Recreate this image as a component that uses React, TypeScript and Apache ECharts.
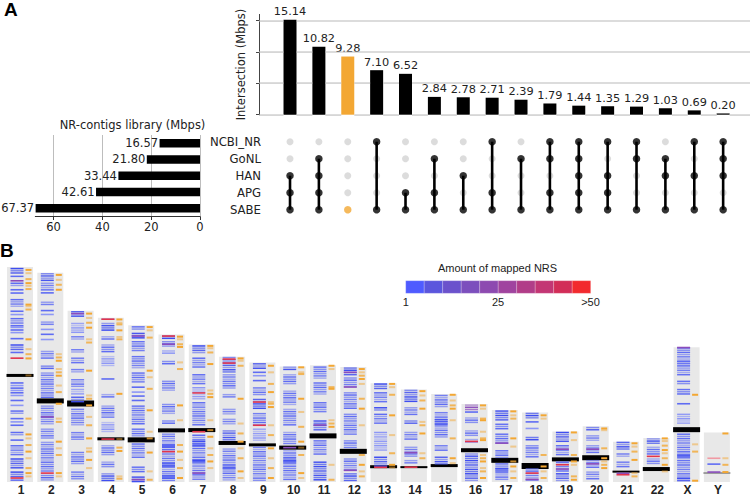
import React, { useEffect, useRef } from 'react';
import * as echarts from 'echarts';

// ---------- Panel A data ----------
const intersectionValues = [15.14, 10.82, 9.28, 7.1, 6.52, 2.84, 2.78, 2.71, 2.39, 1.79, 1.44, 1.35, 1.29, 1.03, 0.69, 0.2];
const setNames = ['NCBI_NR', 'GoNL', 'HAN', 'APG', 'SABE'];
const setSizes = [16.57, 21.8, 33.44, 42.61, 67.37];
const intersectionSets = [
  ['HAN', 'APG', 'SABE'],
  ['GoNL', 'HAN', 'APG', 'SABE'],
  ['SABE'],
  ['NCBI_NR', 'SABE'],
  ['APG', 'SABE'],
  ['GoNL', 'APG', 'SABE'],
  ['HAN', 'SABE'],
  ['NCBI_NR', 'APG', 'SABE'],
  ['GoNL', 'SABE'],
  ['NCBI_NR', 'GoNL', 'APG', 'SABE'],
  ['NCBI_NR', 'GoNL', 'HAN', 'APG', 'SABE'],
  ['NCBI_NR', 'HAN', 'APG', 'SABE'],
  ['NCBI_NR', 'GoNL', 'SABE'],
  ['GoNL', 'HAN', 'SABE'],
  ['NCBI_NR', 'HAN', 'SABE'],
  ['NCBI_NR', 'GoNL', 'HAN', 'SABE'],
];
const highlightIntersection = 2;
const intersectionTicks = [0, 5, 10, 15];
const setSizeTicks = [0, 20, 40, 60];

// ---------- Panel B data ----------
const chromNames = ['1', '2', '3', '4', '5', '6', '7', '8', '9', '10', '11', '12', '13', '14', '15', '16', '17', '18', '19', '20', '21', '22', 'X', 'Y'];
const chromLengthsMb = [248.96, 242.19, 198.3, 190.21, 181.54, 170.81, 159.35, 145.14, 138.39, 133.8, 135.09, 133.28, 114.36, 107.04, 101.99, 90.34, 83.26, 80.37, 58.62, 64.44, 46.71, 50.82, 156.04, 57.23];
const centromereMb = [123.4, 93.9, 90.9, 50.0, 48.8, 59.8, 60.1, 45.2, 43.0, 39.8, 53.4, 35.5, 17.7, 17.2, 19.0, 36.8, 25.1, 18.5, 26.2, 28.1, 12.0, 15.0, 60.6, 10.4];
// mapped NRS bands: [startMb, endMb, level] level 0 light .. 2 strong, 3 ~25, 4 >50, 5 faint >50
const chromBands: number[][][] = [
  [[240,248,2],[236,239,1],[226,231,1],[233,233,3],[222.6,222.6,1],[218.8,218.8,1],[202,212,1],[197.7,197.7,1],[193.9,193.9,0],[182,190,1],[181,181,1],[179,179,0],[176,176,1],[173,173,0],[166,166,1],[153,159.5,2],[150,150,1],[143.4,143.4,4],[114.7,114.7,1],[111.7,111.7,0],[108.7,108.7,1],[106,106,0],[103.3,103.3,1],[100.2,100.2,0],[94.4,94.4,1],[88.7,88.7,0],[77.2,83,1],[73.4,73.4,1],[69.6,69.6,0],[65.7,65.7,1],[52.4,58.2,1],[48.5,48.5,1],[31.3,42.8,1],[16,27.5,2],[4.6,12.3,2],[4.6,4.6,4],[0.5,3,1]],
  [[232,242,2],[222,231,1],[219,219,1],[203,209,1],[198.5,198.5,1],[194,194,0],[180.5,186,1],[176.7,176.7,0],[171,171,1],[165,165,0],[142,152,1],[129,135,2],[96.4,127,1],[65.7,88.7,1],[75.4,75.4,3],[50.5,62,1],[12.3,46.7,1],[10.3,10.3,4],[0.8,8.4,2]],
  [[190,198,2],[195,195,3],[173,184.4,0],[165,169,1],[148,154,1],[136.6,144.2,1],[127,131,1],[109.8,119.3,1],[100,108,0],[92,99,2],[66,85,1],[47,58,1],[20,35,1],[2.6,12.3,1]],
  [[186.3,189.3,2],[188.5,188.5,4],[174.8,184.4,2],[165,169,1],[150,159.5,1],[134.6,146,0],[119.3,119.3,1],[96.4,102,1],[73.4,88.7,1],[58.2,69.6,0],[49.7,49.7,4],[31.3,42.8,1],[16,23.8,1],[0.8,10.3,2]],
  [[174.8,180.5,1],[165.2,172.9,2],[169,169,3],[150,163.3,1],[130.8,146,1],[115.5,127,1],[109.8,109.8,1],[104.1,104.1,0],[99.5,99.5,1],[94.4,94.4,1],[65.7,88.7,1],[52.4,62,1],[27.5,44.8,1],[10.3,18,1],[0,6.5,2],[2.7,2.7,3]],
  [[165.2,169.8,2],[169,169,4],[155.7,163.3,1],[159.5,159.5,3],[148,152.6,0],[134.6,140.4,1],[104.1,117.4,1],[79.2,90.6,1],[65.7,71.5,1],[0.8,56.2,1],[38,44,2],[17,22,2],[3,8,2],[35.2,35.2,4]],
  [[148,158.4,2],[130.8,144.2,1],[111.7,125,1],[96,110,0],[102,104,4],[65.7,92.6,1],[58.2,58.2,4],[0.5,55,1],[40,48,2],[20,26,2],[10.3,10.3,3]],
  [[138.5,145,2],[142.3,142.3,4],[127,138.5,2],[137.7,137.7,4],[107.9,125,1],[96.4,102,1],[77.2,84.9,1],[65.7,73.4,1],[48.5,60,2],[0.8,39,1],[14.1,19.9,2]],
  [[130.8,137.7,2],[127,127,1],[123.1,123.1,0],[117.4,117.4,1],[100.2,109.8,1],[84.9,96.4,2],[92.6,92.6,4],[65.7,80,1],[65.7,65.7,4],[46.7,62,0],[0.8,41,1]],
  [[128.9,133.8,2],[111.7,125,1],[88.7,106,1],[65.7,84.9,1],[42.8,58.2,1],[39.8,39.8,3],[0.8,37,1],[20,28,2]],
  [[119.3,133.9,1],[100.2,115.5,1],[81.1,92.6,1],[60,71.5,2],[66,66,3],[31.3,48.5,1],[0.8,23.8,2]],
  [[123.1,132.8,2],[127,127,3],[107.9,121.3,1],[110,110,3],[84.9,104.1,1],[54.3,79.2,1],[39,48.5,1],[12.3,27.5,1],[13.5,13.5,3],[0.8,10.3,2]],
  [[107.9,114.3,2],[92.6,104.1,1],[83,86.8,2],[65.7,79.2,1],[35.2,58.2,0],[18,29.5,2],[17,17,4]],
  [[90.6,107,2],[77.2,86.8,1],[65.7,71.5,2],[48.5,58.2,1],[27.5,41,1],[34,34,3],[19.9,25.6,1],[17.2,17.2,4]],
  [[84.9,101,1],[50.5,81.1,1],[65,73,2],[35.2,42.8,1],[19.9,29.5,2]],
  [[83,89.9,3],[81,81,1],[67.7,75,1],[52.4,60,1],[46,50,1],[47,47,4],[0,33.3,2]],
  [[71.5,83,2],[60,67.7,1],[42.8,56.2,1],[45,45,3],[27.5,37,1],[0.8,21.8,1],[10,16,2]],
  [[73.4,80.3,2],[69.6,69.6,1],[62,62,0],[46.7,52.4,2],[27.5,42.8,1],[0,16,1],[10.3,10.3,4],[3,3,3]],
  [[46.7,58.2,2],[31.3,42.8,1],[38,38,3],[12.3,23.8,1],[20,20,4],[15,15,3],[0,10.3,2]],
  [[58.2,63.9,2],[46.7,54.3,1],[33.3,42.8,1],[38,38,3],[16,25.6,1],[21,21,3],[2.6,12.3,1]],
  [[37,46.7,2],[27.5,33.3,1],[16.1,23.8,1],[8.4,8.4,4],[10,10,3]],
  [[42.8,50.8,2],[31.3,41,1],[29.7,29.7,4],[19.9,27.5,1]],
  [[136.6,156,1],[155.7,155.7,3],[123.1,140.4,1],[113.6,117.4,1],[100.2,107.9,1],[90.6,90.6,1],[67.7,79.2,0],[0,56.2,1],[27,32,2],[0,5,2]],
  [[56,57,5],[27.5,27.5,5],[20.7,20.7,1],[11.5,11.5,3]],
];
// NRS placed on the reference (orange marks), Mb
const chromOrange: number[][] = [
  [245.6,241.8,234.9,230.3,227.2,223.4,205.4,203.5,199.7,165.2,153.8,148,143.1,123.4,73.4,55.1,50.5,42.8,35.2,27.5,16.1,10.3,6.5],
  [239.8,234.1,228.4,222.6,148,144.2,140.4,130.8,127,123.1,111.7,104.1,90.6,73.4,69.6,46.7,39,31.3,10.3,6.5],
  [195,190,184.4,178.7,165.2,161.5,128.9,100.2,96.4,88.7,75.4,65.7,50.5,39,35.2,25.6,16.1],
  [188.2,184.4,182.5,175.6,167.9,165.2,102.1,49.7,39.8,35.9,6.5,3.8],
  [179.4,175.6,167.2,128.9,121.3,107.9,83,58.2,50.5,34.1,12.3,2.6],
  [168.3,165.2,159.5,156.4,138.5,130.8,88.7,71.5,42.8,35.2,25.6,16.1,4.6],
  [157.6,154.9,150,136.6,106,102.1,98.3,71.5,60,52.4,39,31.3,23.8,16.1],
  [143.1,140.4,134.6,96.4,67.7,56.2,46.7,39,27.5,12.3,4.6],
  [134.6,127,113.6,104.1,92.6,90.6,86.8,65.7,54.3,39,27.5,16.1,4.6],
  [132.8,127,125,96.4,81.1,63.9,46.7,39.8,31.3,10.3,4.6],
  [134.6,130.8,109.8,107.9,71.5,67.7,63.9,19.9,2.6],
  [130.8,127,123.1,119.3,113.6,96.4,84.9,65.7,31.3,19.9,12.3,6.5],
  [113.6,109.8,101,77.2,54.3,33.3,19.9,16.9],
  [105.2,100.2,94.4,84.9,69.6,65.7,56.2,33.3,27.5],
  [101,94.4,88.7,84.9,71.5,50.5,27.5,21.8],
  [88.7,84.9,73.4,71.5,58.2,50.5,48.5,31.3,27.5,23.8,16.1,12.3,4.6],
  [81.8,77.2,73.4,50.5,41,23.8,18,12.3,4.6],
  [77.2,73.4,31.3,18,12.3,4.6],
  [57.4,48.5,31.3,23.8,19.9,6.5,2.6],
  [62,60,39,27.5,23.8,19.9,16.1],
  [44.8,41,35.2,25.6,10.3,6.5],
  [50.5,47.4,42.1,37,33.3,27.5,19.9,12.3],
  [101,43.6,35.2,1.5],
  [56.2,27.5,19.9,11.5],
];
const legendTickLabels = ['1', '25', '>50'];

// ---------- styles ----------
const BAR_W = 13;
const CEN_PX = [3, 5, 6, 3, 5, 4, 4, 4, 3, 4, 5, 5, 3, 2, 3, 4, 5, 6, 4, 5, 2, 4, 5, 1];
const LEVEL_COLOR = ['#8d97f6', '#5f6cf3', '#3f4ef0', '#8a4cbc', '#e2344c', '#f09aa4'];
const STRIPE_ALPHA = [1, 0.6, 0.85, 0.5, 0.95, 0.7];
const LEGEND_COLORS = ['#4f5bff', '#5b56dd', '#6b52cc', '#7c4fbd', '#8d4ab0', '#a0449f', '#b13d88', '#c33674', '#d22d58', '#f22a2e'];
const ORANGE = '#f3a733';
const FONT_A = 'DejaVu Sans';
const FONT_B = 'Liberation Sans';

export default function App() {
  const ref = useRef<HTMLDivElement>(null);
  useEffect(() => {
    if (!ref.current) return;
    const chart = echarts.init(ref.current, null, { renderer: 'svg' });

    const rowIdx = (n: string) => setNames.indexOf(n);
    const grayDots: any[] = [];
    const blackDots: any[] = [];
    const orangeDots: any[] = [];
    const connectors: any[] = [];
    intersectionSets.forEach((sets, i) => {
      setNames.forEach((n, r) => {
        if (sets.includes(n)) {
          (i === highlightIntersection ? orangeDots : blackDots).push([i, r]);
        } else grayDots.push([i, r]);
      });
      const rows = sets.map(rowIdx);
      connectors.push([i, Math.min(...rows), Math.max(...rows)]);
    });

    const xMin = -1.074, xMax = 15.93;

    const option: any = {
      animation: false,
      textStyle: { fontFamily: FONT_A },
      grid: [
        { left: 259, width: 491, top: 14.4, height: 100.3 },
        { left: 259, width: 491, top: 133.2, height: 85 },
        { left: 35.3, width: 164.7, top: 135, height: 81.5 },
        { left: 5.85, width: 727.2, top: 266.1, height: 217.9 },
      ],
      xAxis: [
        { gridIndex: 0, type: 'value', min: xMin, max: xMax, show: false },
        { gridIndex: 1, type: 'value', min: xMin, max: xMax, show: false },
        {
          gridIndex: 2, type: 'value', inverse: true, min: 0, max: 67.5, interval: 20,
          axisLine: { show: true, onZero: false, lineStyle: { color: '#333', width: 1 } },
          axisTick: { show: true, length: 3.5, customValues: setSizeTicks, lineStyle: { color: '#333' } },
          axisLabel: { customValues: setSizeTicks, fontSize: 11.5, color: '#222', margin: 4, fontFamily: FONT_A },
          splitLine: { show: true, lineStyle: { color: '#bdbdbd', width: 1 } },
        },
        {
          gridIndex: 3, type: 'category', data: chromNames,
          axisLine: { show: false }, axisTick: { show: false },
          axisLabel: { interval: 0, fontSize: 12, fontWeight: 'bold', color: '#222', margin: 2, fontFamily: FONT_B },
        },
      ],
      yAxis: [
        {
          gridIndex: 0, type: 'value', min: 0, max: 16, interval: 5,
          axisLine: { show: true, onZero: false, lineStyle: { color: '#444', width: 1 } },
          axisTick: { show: true, length: 3, customValues: intersectionTicks, lineStyle: { color: '#444' } },
          axisLabel: { show: false },
          splitLine: { show: false },
          name: 'Intersection (Mbps)', nameLocation: 'middle', nameGap: 12,
          nameTextStyle: { fontSize: 11.5, color: '#222', fontFamily: FONT_A },
        },
        {
          gridIndex: 1, type: 'category', data: setNames, inverse: true,
          axisLine: { show: false, onZero: false }, axisTick: { show: false },
          axisLabel: { fontSize: 11.7, color: '#222', margin: -2, fontFamily: FONT_A },
        },
        {
          gridIndex: 2, type: 'category', data: setNames, inverse: true, position: 'right',
          axisLine: { show: false }, axisTick: { show: false }, axisLabel: { show: false },
        },
        { gridIndex: 3, type: 'value', min: 0, max: 250, show: false },
      ],
      series: [
        {
          // horizontal grid lines of the intersection chart, split around the bars so they can sit on top
          type: 'custom', xAxisIndex: 0, yAxisIndex: 0, z: 10, silent: true, clip: false,
          data: intersectionTicks.map((v) => [xMin, v]),
          renderItem: (params: any, api: any) => {
            const v = api.value(1);
            const p1 = api.coord([xMin, v]);
            const p2 = api.coord([xMax, v]);
            const y = Math.round(p1[1]) - 0.5;
            const children: any[] = [];
            let start = p1[0];
            intersectionValues.forEach((val, i) => {
              if (val > v) {
                const cx = api.coord([i, v])[0];
                const end = cx - BAR_W / 2;
                if (end > start) children.push({ type: 'rect', shape: { x: start, y, width: end - start, height: 1.1 }, style: { fill: '#bababa' } });
                start = cx + BAR_W / 2;
              }
            });
            if (p2[0] > start) children.push({ type: 'rect', shape: { x: start, y, width: p2[0] - start, height: 1.1 }, style: { fill: '#bababa' } });
            return { type: 'group', children };
          },
        },
        {
          type: 'bar', xAxisIndex: 0, yAxisIndex: 0, barWidth: BAR_W, z: 3,
          data: intersectionValues.map((v, i) => ({
            value: [i, v],
            itemStyle: { color: i === highlightIntersection ? ORANGE : '#000' },
          })),
          label: {
            show: true, position: 'top', distance: 2.5, fontSize: 11.3, color: '#222', fontFamily: FONT_A,
            formatter: (p: any) => p.value[1].toFixed(2),
          },
        },
        {
          type: 'custom', xAxisIndex: 1, yAxisIndex: 1, z: 3,
          data: connectors,
          renderItem: (params: any, api: any) => {
            const i = api.value(0), a = api.value(1), b = api.value(2);
            if (a === b) return null;
            const p1 = api.coord([i, a]);
            const p2 = api.coord([i, b]);
            return { type: 'line', shape: { x1: p1[0], y1: p1[1], x2: p2[0], y2: p2[1] }, style: { stroke: '#000', lineWidth: 2.6 } };
          },
        },
        { type: 'scatter', xAxisIndex: 1, yAxisIndex: 1, data: grayDots, symbolSize: 7, itemStyle: { color: '#d3d3d3' }, z: 2 },
        { type: 'scatter', xAxisIndex: 1, yAxisIndex: 1, data: blackDots, symbolSize: 7.5, itemStyle: { color: '#000' }, z: 4 },
        { type: 'scatter', xAxisIndex: 1, yAxisIndex: 1, data: orangeDots, symbolSize: 7.5, itemStyle: { color: ORANGE }, z: 4 },
        {
          type: 'bar', xAxisIndex: 2, yAxisIndex: 2, barWidth: 8.5,
          data: setSizes, itemStyle: { color: '#000' },
          label: {
            show: true, position: 'left', distance: 1.5, fontSize: 11.5, color: '#222', fontFamily: FONT_A,
            formatter: (p: any) => Number(p.value).toFixed(2),
          },
        },
        {
          type: 'custom', xAxisIndex: 3, yAxisIndex: 3, clip: false,
          data: chromNames.map((_, i) => [i, chromLengthsMb[i]]),
          renderItem: (params: any, api: any) => {
            const i = api.value(0);
            const L = chromLengthsMb[i];
            const bottom = api.coord([i, 0]);
            const c = bottom[0];
            const yB = bottom[1];
            const yT = api.coord([i, L])[1];
            const children: any[] = [];
            children.push({ type: 'rect', shape: { x: c - 14, y: yT, width: 26, height: yB - yT }, style: { fill: '#e8e8e8' } });
            const cy = api.coord([i, centromereMb[i]])[1];
            const h = CEN_PX[i];
            children.push({ type: 'rect', shape: { x: c - 14.5, y: cy - h / 2, width: 27, height: h }, style: { fill: h <= 1 ? '#555' : '#000' } });
            const bands = chromBands[i].slice().sort((p, q) => {
              const lp = p[1] - p[0] > 0.5 ? 0 : 1, lq = q[1] - q[0] > 0.5 ? 0 : 1;
              if (lp !== lq) return lp - lq;
              return p[2] - q[2];
            });
            bands.forEach((b) => {
              const [s, e, lv] = b;
              const y1 = api.coord([i, e])[1];
              const y2 = api.coord([i, s])[1];
              const col = LEVEL_COLOR[lv];
              if (e - s <= 0.5) {
                children.push({ type: 'rect', shape: { x: c - 10.5, y: y1 - 0.8, width: 13, height: 1.6 }, style: { fill: col } });
              } else {
                let k = 0;
                for (let y = y1; y <= y2 - 1; y += 2.2) {
                  children.push({ type: 'rect', shape: { x: c - 10.5, y, width: 13, height: 1.5 }, style: { fill: col, opacity: STRIPE_ALPHA[(k + i) % STRIPE_ALPHA.length] } });
                  k++;
                }
              }
            });
            chromOrange[i].forEach((pos, k) => {
              const y = api.coord([i, pos])[1];
              children.push({ type: 'rect', shape: { x: c + 4.5, y: y - 1, width: 6, height: 2 }, style: { fill: ORANGE, opacity: [1, 0.5, 0.8][k % 3] } });
            });
            return { type: 'group', children };
          },
        },
      ],
      graphic: [
        { type: 'text', left: 4, top: 0, style: { text: 'A', font: 'bold 19px "Liberation Sans"', fill: '#000' } },
        { type: 'text', left: 0, top: 241, style: { text: 'B', font: 'bold 19px "Liberation Sans"', fill: '#000' } },
        { type: 'text', x: 132.5, y: 125, style: { text: 'NR-contigs library (Mbps)', font: '11.5px "DejaVu Sans"', fill: '#222', align: 'center', verticalAlign: 'middle' } },
        { type: 'text', x: 497.5, y: 267.5, style: { text: 'Amount of mapped NRS', font: '11px "Liberation Sans"', fill: '#222', align: 'center', verticalAlign: 'middle' } },
        ...LEGEND_COLORS.map((col, k) => ({
          type: 'rect', shape: { x: 405.7 + k * 18.5, y: 280.7, width: 18.5, height: 12.6 },
          style: { fill: col, stroke: 'rgba(255,255,255,0.35)', lineWidth: 0.6 },
        })),
        ...legendTickLabels.map((t, k) => ({
          type: 'text', x: [405.7, 498, 590.5][k], y: 301.5,
          style: { text: t, font: '11px "Liberation Sans"', fill: '#222', align: 'center', verticalAlign: 'middle' },
        })),
      ],
    };
    chart.setOption(option);
    return () => chart.dispose();
  }, []);
  return <div ref={ref} style={{ position: 'fixed', left: 0, top: 0, width: 750, height: 496, background: '#fff' }} />;
}
